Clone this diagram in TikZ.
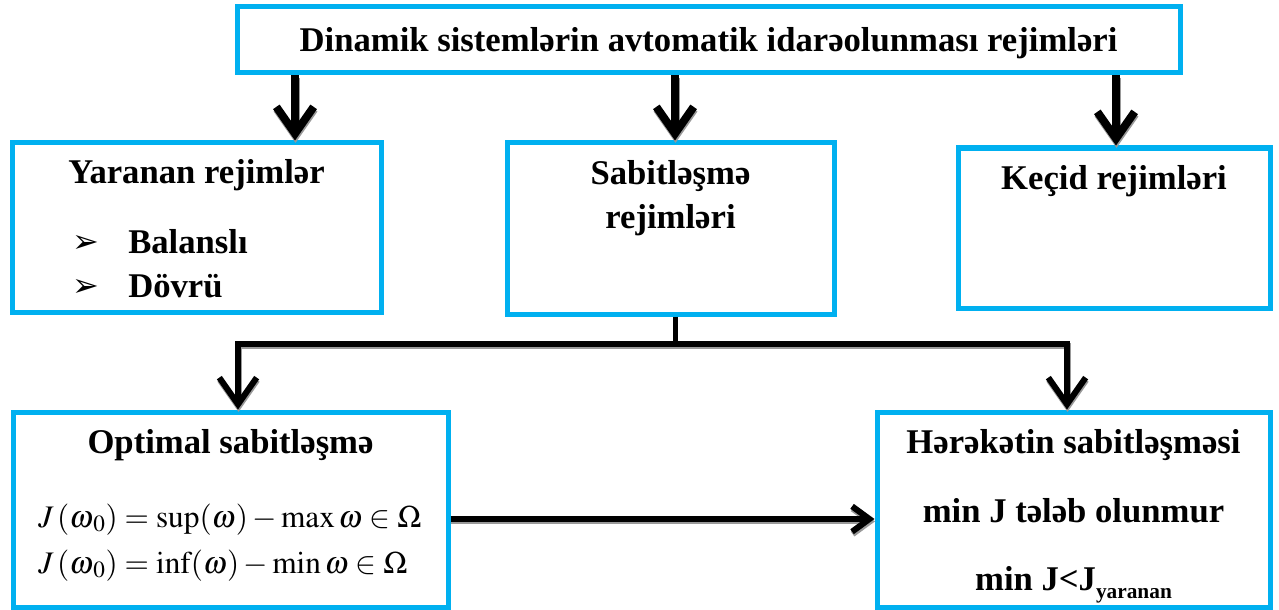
\documentclass[tikz,border=0pt]{standalone}
\usepackage{mathptmx}
\usepackage[no-math]{fontspec}
\setmainfont{Liberation Serif}
\newfontfamily\dingfont{DejaVu Sans}
\usetikzlibrary{arrows.meta}
\definecolor{frameblue}{HTML}{00B0F0}
\begin{document}
\begin{tikzpicture}[x=0.75pt,y=-0.75pt,
  frame/.style={draw=frameblue, line width=3.75pt, fill=white, inner sep=0pt, rectangle},
  label/.style={font=\fontsize{26}{30}\selectfont\bfseries, inner sep=0pt, anchor=base},
  formula/.style={font=\fontsize{23.5}{27}\selectfont, inner sep=0pt, anchor=base west},
  bigarrow/.style={line width=6pt, -{Straight Barb[length=20pt,width=28pt]}},
  midarrow/.style={line width=4.5pt, -{Straight Barb[length=20pt,width=28pt]}},
  flatarrow/.style={line width=4.5pt, -{Straight Barb[length=13pt,width=19pt]}},
  joinline/.style={line width=3.75pt, line join=miter},
  shadowed/.style={draw=black!40, transform canvas={shift={(0.4pt,-1.8pt)}}},
]
\useasboundingbox (0,0) rectangle (1279,610);

% boxes
\node[frame, minimum width=707.25pt, minimum height=49.5pt]   (top) at (708.5,40) {};
\node[frame, minimum width=276.75pt, minimum height=126.75pt] (yar) at (196.5,227.5) {};
\node[frame, minimum width=245.25pt, minimum height=128.25pt] (sab) at (670.5,228.5) {};
\node[frame, minimum width=234pt,    minimum height=120pt]    (kec) at (1114,228) {};
\node[frame, minimum width=326.25pt, minimum height=146.25pt] (opt) at (230.5,509.5) {};
\node[frame, minimum width=294.75pt, minimum height=146.25pt] (her) at (1073.5,509.5) {};

% guide coordinates for the connectors
\coordinate (ax1) at (295,100);
\coordinate (ax2) at (675,100);
\coordinate (ax3) at (1116,100);
\coordinate (split) at (675,344);
\coordinate (jl) at (238,344);
\coordinate (jr) at (1067,344);
\coordinate (hy) at (0,519);

% arrows from the title box
\foreach \c/\b in {ax1/yar, ax2/sab, ax3/kec}{
  \draw[bigarrow, shadowed] (top.south -| \c) -- (\b.north -| \c);
  \draw[bigarrow] (top.south -| \c) -- (\b.north -| \c);
}

% branch below the middle box
\draw[joinline, shadowed] (jl) -- (jr);
\draw[joinline] (sab.south -| split) -- (split);
\draw[midarrow, shadowed] (split) -- (jl) -- (jl |- opt.north);
\draw[midarrow, shadowed] (split) -- (jr) -- (jr |- her.north);
\draw[midarrow] (split) -- (jl) -- (jl |- opt.north);
\draw[midarrow] (split) -- (jr) -- (jr |- her.north);

% arrow between the bottom boxes
\draw[flatarrow, shadowed] (opt.east |- hy) -- (her.west |- hy);
\draw[flatarrow] (opt.east |- hy) -- (her.west |- hy);

% texts
\node[label] (t0) at (708.5,52) {Dinamik sistemlərin avtomatik idarəolunması rejimləri};
\node[label] (t1) at (196.5,183) {Yaranan rejimlər};
\node[inner sep=0pt, anchor=base west, font=\dingfont\fontsize{24}{26}\selectfont] (b1) at (72,252) {➢};
\node[inner sep=0pt, anchor=base west, font=\dingfont\fontsize{24}{26}\selectfont] (b2) at (72,296) {➢};
\node[label, anchor=base west] (t2) at (128,253) {Balanslı};
\node[label, anchor=base west] (t3) at (128,297) {Dövrü};
\node[label] (t4) at (670.5,185) {Sabitləşmə};
\node[label] (t5) at (670.5,228) {rejimləri};
\node[label] (t6) at (1114,190) {Keçid rejimləri};
\node[label] (t7) at (230.5,453) {Optimal sabitləşmə};
\node[formula] (f1) at (38,527) {$J\,(\omega_{\,0}) = \sup(\omega) - \max\omega \in \Omega$};
\node[formula] (f2) at (38,573) {$J\,(\omega_{\,0}) = \inf(\omega) - \min\omega \in \Omega$};
\node[label] (t8) at (1073.5,453) {Hərəkətin sabitləşməsi};
\node[label] (t9) at (1073.5,522) {min J tələb olunmur};
\node[label] (t10) at (1073.5,590) {min J<J\raisebox{-0.25em}{\fontsize{16}{16}\selectfont yaranan}};
\end{tikzpicture}
\end{document}
